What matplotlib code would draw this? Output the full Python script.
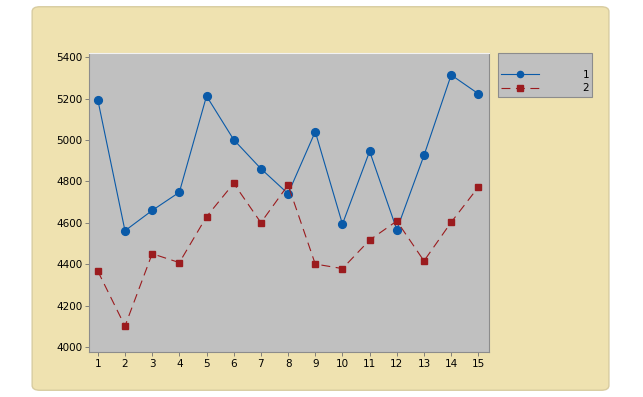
import matplotlib.pyplot as plt
from matplotlib.patches import FancyBboxPatch

# data
x = list(range(1, 16))
serie1 = [5195, 4562, 4660, 4748, 5213, 5002, 4862, 4741, 5041, 4594, 4946, 4567, 4926, 5315, 5224]
serie2 = [4367, 4101, 4451, 4408, 4630, 4791, 4601, 4783, 4401, 4379, 4517, 4609, 4416, 4603, 4773]
rotulos = ["1", "2"]

fig = plt.figure(figsize=(6.43, 3.97), dpi=100)
fig.patch.set_facecolor("white")

# painel bege de fundo
painel = FancyBboxPatch((0.050, 0.017), 0.897, 0.966, boxstyle="round,pad=0,rounding_size=0.012",
                        transform=fig.transFigure, facecolor="#EFE2B0", edgecolor="#D8CCA0",
                        linewidth=1.0, zorder=-10)
fig.patches.append(painel)

ax = fig.add_axes([0.139, 0.1134, 0.621, 0.7536])
ax.set_facecolor("#C0C0C0")

ax.plot(x, serie1, color="#0A5AA8", linewidth=0.8, marker="o", markersize=5.6,
        markeredgecolor="#0A5AA8", label=rotulos[0])
ax.plot(x, serie2, color="#9B1B1E", linewidth=0.8, linestyle=(0, (8, 5)), marker="s",
        markersize=4.8, markeredgecolor="#9B1B1E", label=rotulos[1])

ax.set_xlim(0.69, 15.38)
ax.set_ylim(3976, 5422)
ax.set_xticks(x)
ax.set_yticks(range(4000, 5401, 200))
ax.tick_params(labelsize=7.5, length=3, width=0.6, color="#707070", pad=2)

for lado in ["left", "bottom"]:
    ax.spines[lado].set_color("#8C8C8C")
ax.spines["top"].set_color("#F2F2F2")
ax.spines["right"].set_color("#8C8C8C")

leg = fig.legend(loc="upper left", bbox_to_anchor=(498 / 643, 1 - 53 / 397), fontsize=7.5,
                 title=" ", title_fontsize=7.5, handlelength=3.6, handletextpad=4.2,
                 borderpad=0.3, labelspacing=0.35, borderaxespad=0, markerscale=0.8,
                 fancybox=False, framealpha=1)
leg.get_frame().set_facecolor("#C0C0C0")
leg.get_frame().set_edgecolor("#8C8C8C")
leg.get_frame().set_linewidth(0.8)

plt.savefig("out.png", dpi=100)
plt.close()
